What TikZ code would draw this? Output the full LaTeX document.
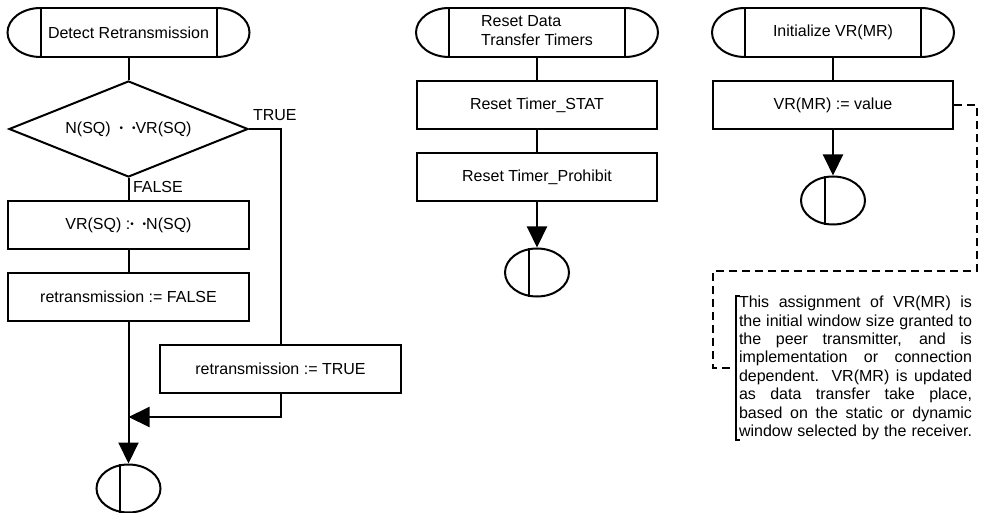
\documentclass[tikz,border=0pt]{standalone}
\usepackage{fontspec}
\setmainfont{Liberation Sans}
\usetikzlibrary{arrows.meta,shapes.geometric}
\newcommand{\bul}{\raisebox{0.8pt}{\fontsize{5}{5}\selectfont •}}
\newcommand{\jline}[1]{\makebox[116.5pt][s]{#1}}

\begin{document}
\begin{tikzpicture}[x=0.5pt, y=-0.5pt, line width=1pt,
    every node/.style={font=\fontsize{8}{9.2}\selectfont},
    term/.style={rectangle, draw, minimum width=88pt, minimum height=24.5pt, inner sep=0pt, outer sep=0pt, align=left},
    box/.style={rectangle, draw, minimum width=120.5pt, minimum height=24pt, inner sep=0pt},
    cond/.style={diamond, draw, aspect=2.5, minimum width=119.5pt, minimum height=48pt, inner sep=0pt},
    stop/.style={ellipse, draw, minimum width=32pt, minimum height=24pt, inner sep=0pt},
    lbl/.style={anchor=west, inner sep=1.5pt},
    note/.style={anchor=west, align=left, inner xsep=1.5pt, inner ysep=0pt, outer sep=0pt},
    arrow/.style={-{Triangle[length=10.5pt, width=10pt]}},
    link/.style={dash pattern=on 4pt off 2.5pt}
  ]
    \useasboundingbox (0,0) rectangle (984,513);

    % detect retransmission
    \node[term] (start1) at (128.5,32.5) {Detect Retransmission};
    \node[cond] (dec1) at (128.5,129) {N(SQ) \ \bul\ \ \bul VR(SQ)};
    \node[box] (vrsq) at (128.5,225) {VR(SQ) :\bul\ \ \bul N(SQ)};
    \node[box] (rfalse) at (128.5,297) {retransmission := FALSE};
    \node[box] (rtrue) at (280.5,369) {retransmission := TRUE};
    \node[stop] (end1) at (128.5,488.5) {};
    \node[lbl] (ltrue) at (249,115) {TRUE};
    \node[lbl] (lfalse) at (129,187) {FALSE};
    \coordinate (join) at (128.5,417);

    \draw (start1) -- (dec1);
    \draw (dec1) -- (vrsq);
    \draw (vrsq) -- (rfalse);
    \draw[arrow] (rfalse) -- (end1);
    \draw (dec1.east) -| (rtrue.north);
    \draw[arrow] (rtrue.south) |- (join);

    % reset timers
    \node[term] (start2) at (537,32.5) {Reset Data\\Transfer Timers\\[-7pt]};
    \node[box, minimum width=120pt] (stat) at (537,105) {Reset Timer\_STAT};
    \node[box, minimum width=120pt] (prohib) at (537,177) {Reset Timer\_Prohibit};
    \node[stop] (end2) at (537,272.5) {};

    \draw (start2) -- (stat);
    \draw (stat) -- (prohib);
    \draw[arrow] (prohib) -- (end2);

    % initialize VR(MR)
    \node[term] (start3) at (833,32.5) {Initialize VR(MR)};
    \node[box, minimum width=120pt] (mrbox) at (833,105) {VR(MR) := value};
    \node[stop] (end3) at (833,200.5) {};
    \node[note] (note) at (736,368) {%
      \jline{This assignment of VR(MR) is}\\
      \jline{the initial window size granted to}\\
      \jline{the peer transmitter, and is}\\
      \jline{implementation or connection}\\
      \jline{dependent. VR(MR) is updated}\\
      \jline{as data transfer take place,}\\
      \jline{based on the static or dynamic}\\
      \jline{window selected by the receiver.}};
    \coordinate (c1) at (977,271);
    \coordinate (c2) at (713,271);

    \draw (start3) -- (mrbox);
    \draw[arrow] (mrbox) -- (end3);
    \draw[link] (mrbox.east) -| (c1) -- (c2) |- (note.west);
    \draw (note.north west) ++(2pt,0) -- (note.north west) -- (note.south west) -- ++(2pt,0);

    \foreach \n in {start1,start2,start3} {
      \draw (\n.north west) arc[start angle=90, end angle=270, x radius=16.5pt, y radius=12.25pt];
      \draw (\n.north east) arc[start angle=90, end angle=-90, x radius=16.5pt, y radius=12.25pt];
    }
    \foreach \n in {end1,end2,end3}
      \draw (\n.109) -- (\n.251);
  \end{tikzpicture}
\end{document}
